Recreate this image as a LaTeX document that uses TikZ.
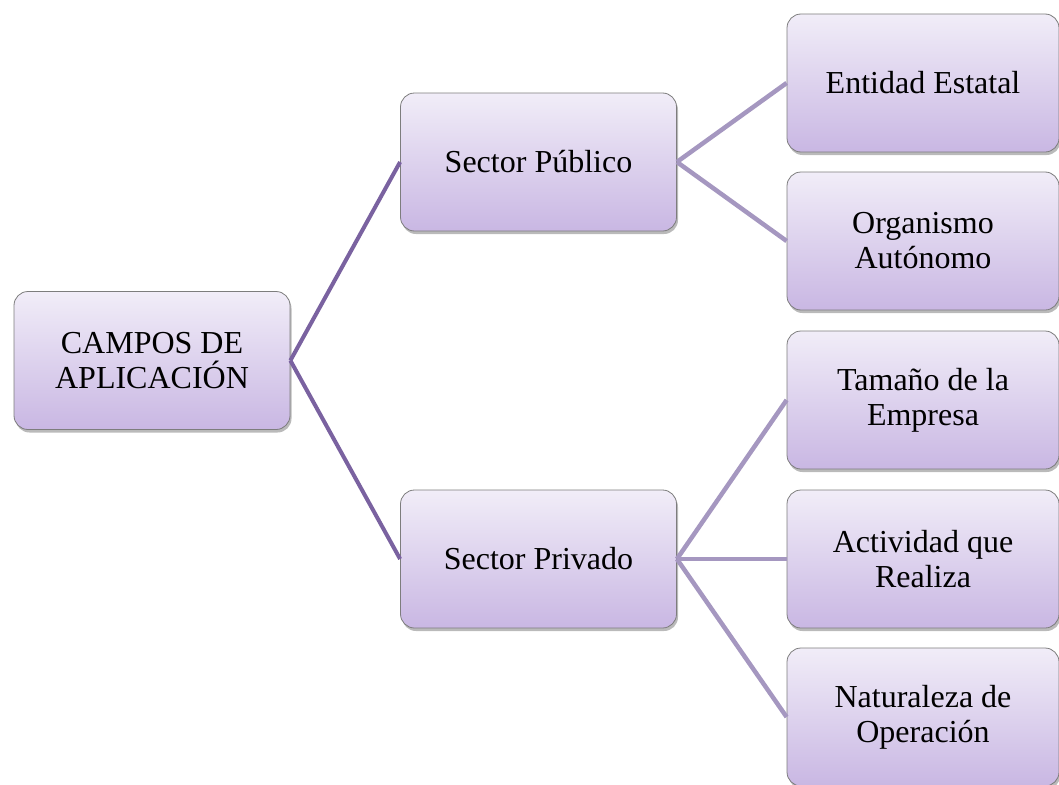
\documentclass[tikz,border=0pt]{standalone}
\usepackage{fontspec}
\setmainfont{Liberation Serif}
\usetikzlibrary{shadows}
\definecolor{boxtop}{RGB}{241,237,248}
\definecolor{boxbot}{RGB}{201,183,227}
\definecolor{boxline}{RGB}{125,125,125}
\definecolor{linkA}{RGB}{122,98,160}
\definecolor{linkB}{RGB}{165,151,192}
\tikzset{
  box/.style={rectangle, rounded corners=14pt, draw=boxline, line width=0.8pt,
    top color=boxtop, bottom color=boxbot, minimum width=276pt, minimum height=138pt,
    align=center, inner sep=2pt,
    font=\fontsize{32}{35}\selectfont,
    drop shadow={shadow xshift=1.5pt, shadow yshift=-3pt, opacity=0.45, fill=black!60}},
  rbox/.style={box, minimum width=272pt},
  linkone/.style={draw=linkA, line width=4pt},
  linktwo/.style={draw=linkB, line width=4.5pt}
}
\begin{document}
\begin{tikzpicture}[x=1pt, y=-1pt]
\useasboundingbox (0,0) rectangle (1059,784);
\node[box] (root) at (152,360.5) {CAMPOS DE\\APLICACIÓN};
\node[box] (pub) at (538.5,162) {Sector Público};
\node[box] (priv) at (538.5,559) {Sector Privado};
\node[rbox] (e1) at (923,83) {Entidad Estatal};
\node[rbox] (e2) at (923,241) {Organismo\\Autónomo};
\node[rbox] (e3) at (923,400) {Tamaño de la\\Empresa};
\node[rbox] (e4) at (923,559) {Actividad que\\Realiza};
\node[rbox] (e5) at (923,717) {Naturaleza de\\Operación};
\draw[linkone] (root.east) -- (pub.west);
\draw[linkone] (root.east) -- (priv.west);
\draw[linktwo] (pub.east) -- (e1.west);
\draw[linktwo] (pub.east) -- (e2.west);
\draw[linktwo] (priv.east) -- (e3.west);
\draw[linktwo] (priv.east) -- (e4.west);
\draw[linktwo] (priv.east) -- (e5.west);
\end{tikzpicture}
\end{document}
